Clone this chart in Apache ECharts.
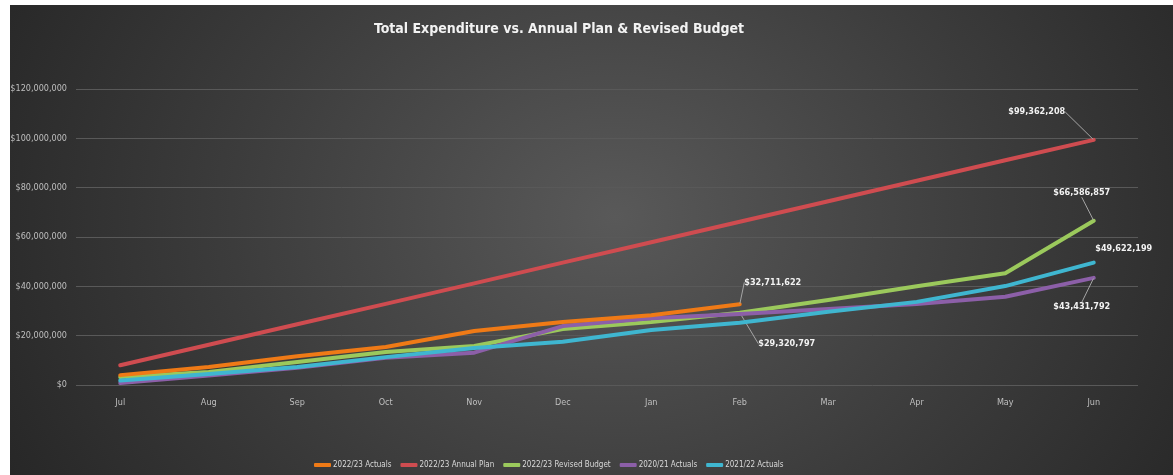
<!DOCTYPE html>
<html>
<head>
<meta charset="utf-8">
<script src="https://cdn.jsdelivr.net/npm/echarts@6/dist/echarts.min.js"></script>
<style>
  html, body { margin: 0; padding: 0; background: #fff; }
  #bg {
    position: absolute; left: 10px; top: 5px; width: 1163px; height: 470px;
    background: radial-gradient(ellipse 60% 120% at 52% 45%, #595959 0%, #3c3c3c 55%, #262626 100%);
  }
  #main { position: absolute; left: 0; top: 0; width: 1173px; height: 475px; }
</style>
</head>
<body>
<div id="bg"></div>
<div id="main"></div>
<script>
// 月份
const months = ['Jul', 'Aug', 'Sep', 'Oct', 'Nov', 'Dec', 'Jan', 'Feb', 'Mar', 'Apr', 'May', 'Jun']
// 各系列数据
const actuals2223 = [4000000, 7300000, 11700000, 15400000, 21900000, 25500000, 28300000, 32711622]
const annualPlan2223 = [8000000, 16300000, 24600000, 32900000, 41200000, 49600000, 57900000, 66200000, 74500000, 82800000, 91100000, 99362208]
const revisedBudget2223 = [3200000, 5300000, 9300000, 13400000, 15800000, 22700000, 25500000, 29320797, 34500000, 40000000, 45300000, 66586857]
const actuals2021 = [800000, 3800000, 7000000, 11000000, 13100000, 23900000, 27100000, 28800000, 30800000, 32800000, 35800000, 43431792]
const actuals2122 = [1800000, 4500000, 7300000, 11300000, 15000000, 17500000, 22300000, 25200000, 29700000, 33700000, 40100000, 49622199]
const yTicks = { min: 0, max: 120000000, interval: 20000000 }

const fontFam = "'DejaVu Sans Condensed', 'Liberation Sans Narrow', 'Open Sans', sans-serif"
const money = v => '$' + Number(v).toLocaleString('en-US')

// 要显示标签的点：series名 -> { dataIndex: [dx, dy, 是否画引线] }
const labelSpots = {
  '2022/23 Actuals': { 7: [33, -12, true] },
  '2022/23 Annual Plan': { 11: [-57, -18, true] },
  '2022/23 Revised Budget': { 7: [47, 41, true], 11: [-12, -18, true] },
  '2020/21 Actuals': { 11: [-12, 39, true] },
  '2021/22 Actuals': { 11: [30, -4, false] }
}

const makeSeries = (name, values, color, z) => {
  const spots = labelSpots[name] || {}
  return {
    name: name,
    type: 'line',
    z: z,
    symbol: 'circle',
    symbolSize: 1,
    showSymbol: true,
    itemStyle: { color: color },
    lineStyle: { width: 4, color: color, cap: 'round', join: 'round' },
    data: values.map((v, i) => ({
      value: v,
      label: { show: spots[i] !== undefined },
      labelLine: { show: !!(spots[i] && spots[i][2]) }
    })),
    label: {
      position: 'top',
      color: '#f2f2f2',
      fontSize: 9,
      fontWeight: 'bold',
      fontFamily: fontFam,
      formatter: p => money(p.value)
    },
    labelLine: { show: true, lineStyle: { color: '#a6a6a6', width: 1 } },
    labelLayout: p => {
      const o = spots[p.dataIndex]
      return o ? { dx: o[0], dy: o[1] } : {}
    },
    emphasis: { disabled: true }
  }
}

const chart = echarts.init(document.getElementById('main'))
chart.setOption({
  backgroundColor: 'transparent',
  animation: false,
  title: {
    text: 'Total Expenditure vs. Annual Plan & Revised Budget',
    left: 554,
    textAlign: 'center',
    top: 17,
    textStyle: { color: '#f2f2f2', fontSize: 14, fontWeight: 'bold', fontFamily: fontFam }
  },
  legend: {
    left: 309,
    top: 456,
    icon: 'roundRect',
    itemWidth: 17,
    itemHeight: 4,
    itemGap: 9,
    textStyle: { color: '#d9d9d9', fontSize: 8, fontFamily: fontFam, padding: [0, 0, 0, -3] },
    data: ['2022/23 Actuals', '2022/23 Annual Plan', '2022/23 Revised Budget', '2020/21 Actuals', '2021/22 Actuals']
  },
  grid: { left: 76, right: 35, top: 89, bottom: 90 },
  xAxis: {
    type: 'category',
    data: months,
    boundaryGap: true,
    axisLine: { show: false },
    axisTick: { show: false },
    axisLabel: { color: '#bfbfbf', fontSize: 9, fontFamily: fontFam, margin: 13 }
  },
  yAxis: {
    type: 'value',
    min: yTicks.min,
    max: yTicks.max,
    interval: yTicks.interval,
    axisLine: { show: false },
    axisTick: { show: false },
    splitLine: { lineStyle: { color: '#595959', width: 1 } },
    axisLabel: { color: '#bfbfbf', fontSize: 9, fontFamily: fontFam, margin: 9, formatter: v => money(v) }
  },
  series: [
    makeSeries('2022/23 Annual Plan', annualPlan2223, '#cf4c50', 2),
    makeSeries('2022/23 Revised Budget', revisedBudget2223, '#9bc95c', 3),
    makeSeries('2020/21 Actuals', actuals2021, '#8c5fa8', 4),
    makeSeries('2021/22 Actuals', actuals2122, '#3fb6d0', 5),
    makeSeries('2022/23 Actuals', actuals2223, '#ef7a16', 6)
  ]
})
</script>
</body>
</html>
